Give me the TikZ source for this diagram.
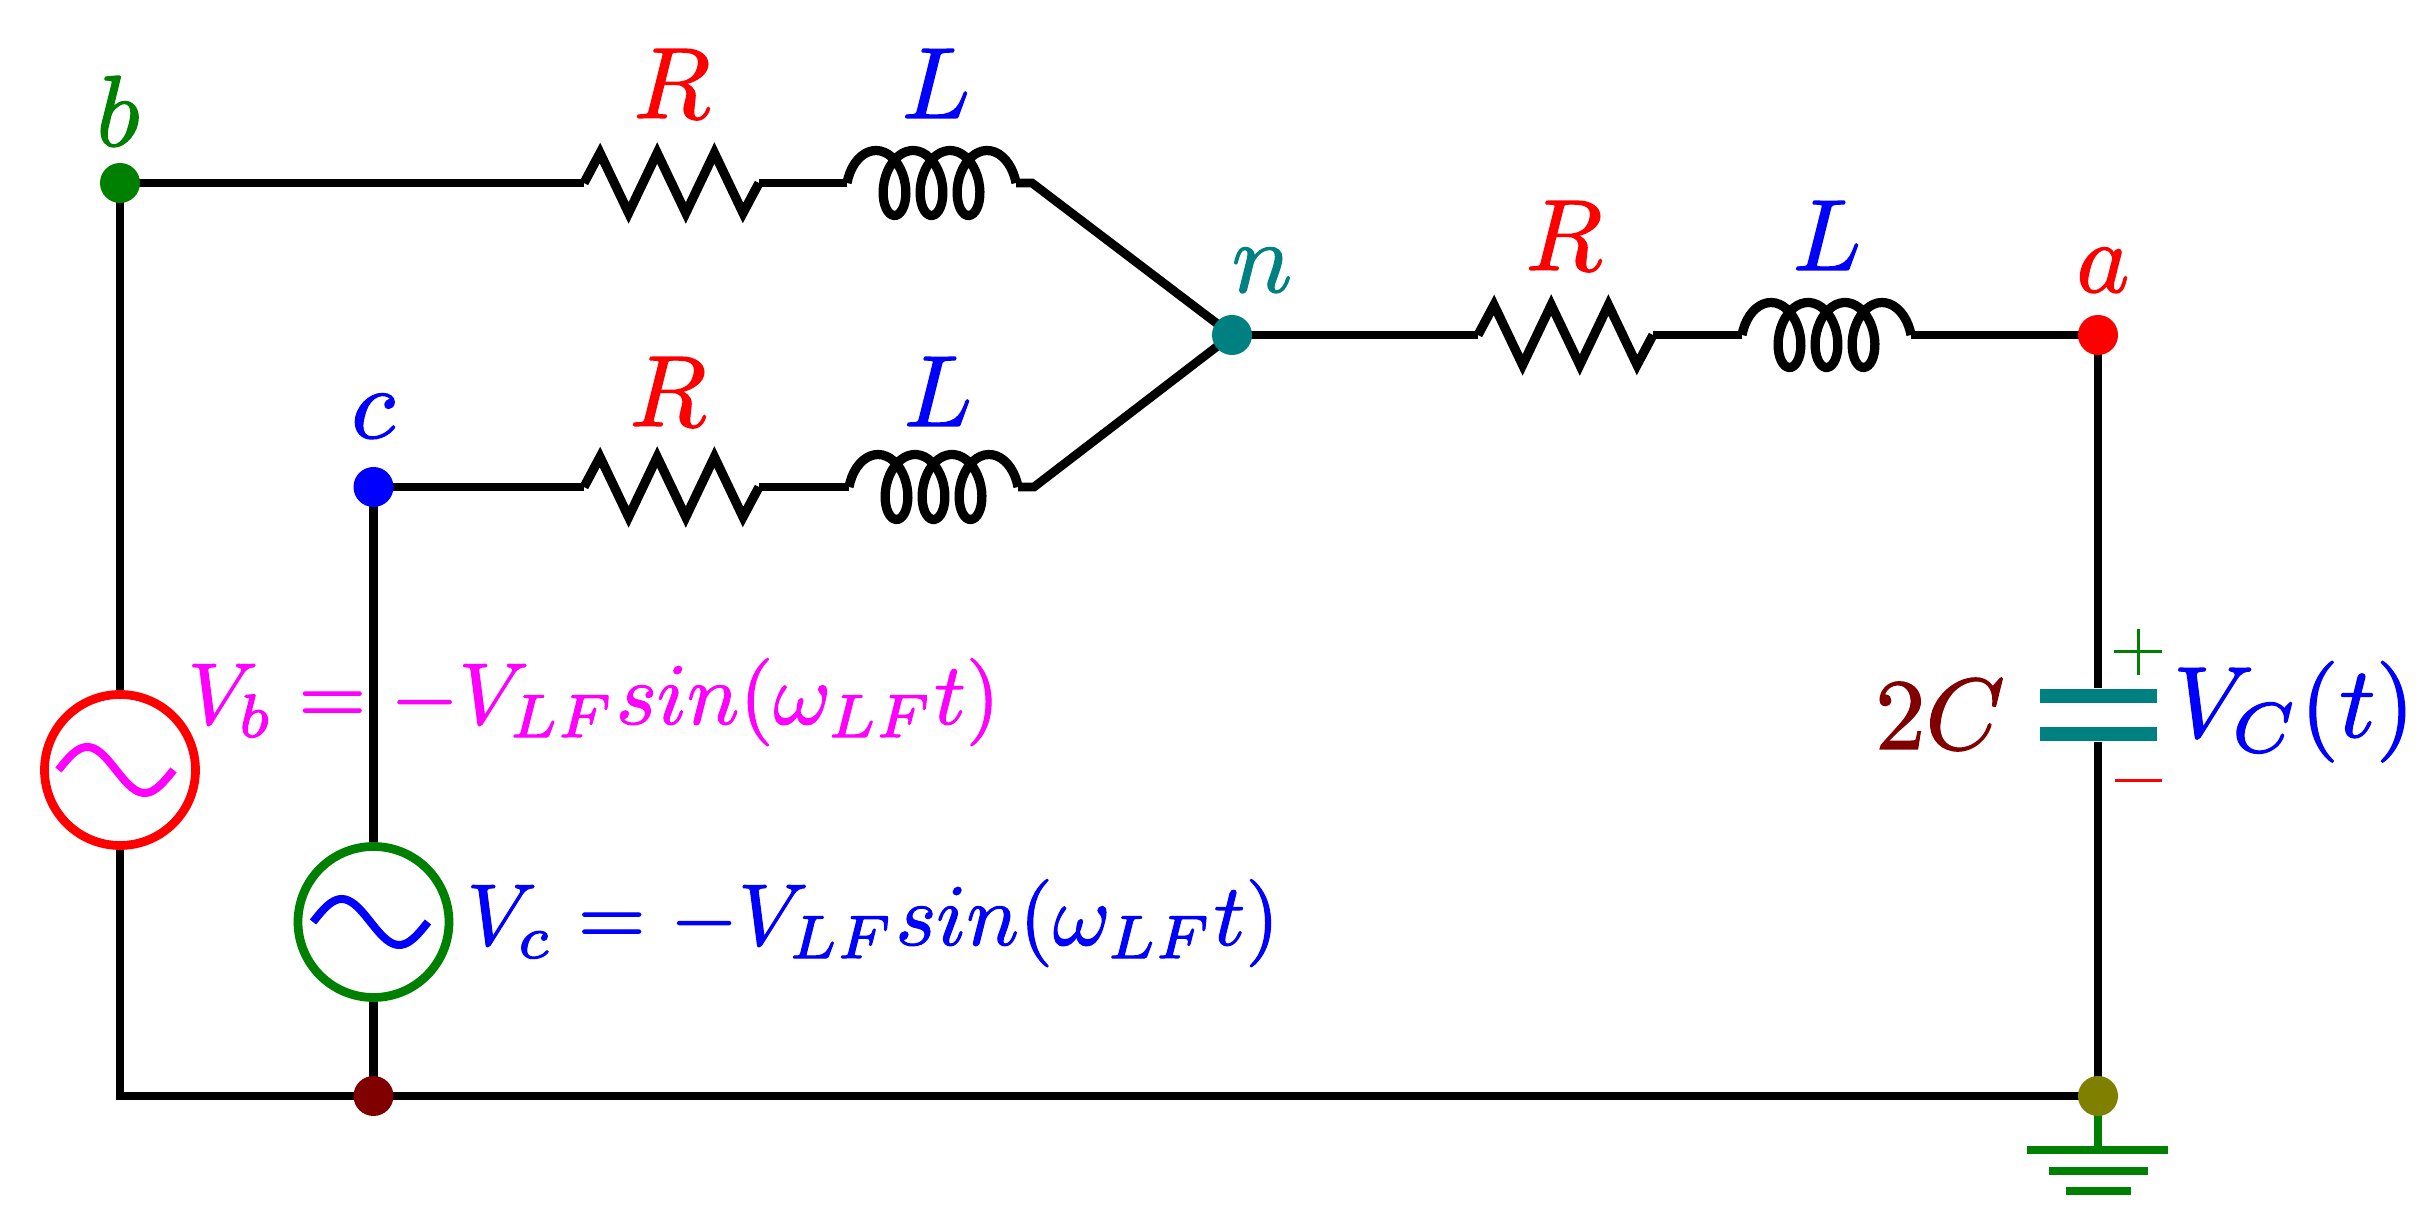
\documentclass[tikz,border=0pt]{standalone}
\usetikzlibrary{backgrounds}
\definecolor{cgreen}{rgb}{0,0.5,0}
\definecolor{cteal}{rgb}{0,0.5,0.5}
\definecolor{colive}{rgb}{0.5,0.5,0}
\definecolor{cmaroon}{rgb}{0.5,0,0}
\definecolor{cmagenta}{rgb}{1,0,1}
\newcommand{\resist}[2]{\draw[part,miter limit=10] (#1,#2) -- ++(16,-30) -- ++(28.6,60) -- ++(28.6,-60) -- ++(28.6,60) -- ++(28.6,-60) -- ++(28.6,60) -- ++(16,-30);}
\newcommand{\inductor}[2]{\draw[part] plot[domain=0:1260,samples=140] ({#1+0.1028*\x+19.75*(1-cos(\x))},{#2-32.5*sin(\x)});}
\newcommand{\wave}[3]{\draw[line width=1.6pt,#3] plot[domain=0:360,samples=40,smooth] ({#1-57.5+0.3194*\x},{#2-23*sin(\x)});}
\newcommand{\heavyon}{\special{pdf:literal 2 Tr 0.12 w}}
\newcommand{\heavyoff}{\special{pdf:literal 0 Tr}}
\tikzset{
  x=0.2pt,y=-0.2pt,
  wire/.style={line width=1.75pt,black},
  part/.style={line width=1.85pt,black},
  dot/.style={circle,inner sep=0pt,minimum size=8pt,fill=#1},
  src/.style={circle,draw=#1,line width=1.75pt,fill=none,inner sep=0pt,minimum size=30.2pt},
  lab/.style={inner sep=0pt,anchor=base,text=#1,scale=2.02,execute at begin node=\heavyon,execute at end node=\heavyoff},
  labm/.style={inner sep=0pt,anchor=base west,text=#1,scale=1.75,execute at begin node=\heavyon,execute at end node=\heavyoff},
  plate/.style={rectangle,fill=cteal,inner sep=0pt,minimum width=23.4pt,minimum height=2.8pt},
  gnd/.style={cgreen,line width=1.7pt},
}
\begin{document}
\begin{tikzpicture}
\useasboundingbox (0,0) rectangle (2430,1222);
\coordinate (r1in) at (584,183);
\coordinate (r1out) at (759,183);
\coordinate (l1in) at (847,183);
\coordinate (l1out) at (1016,183);
\coordinate (r2in) at (584,487);
\coordinate (r2out) at (759,487);
\coordinate (l2in) at (849,487);
\coordinate (l2out) at (1018,487);
\coordinate (r3in) at (1478,335);
\coordinate (r3out) at (1653,335);
\coordinate (l3in) at (1742,335);
\coordinate (l3out) at (1911,335);
\coordinate (k1) at (1032,183);
\coordinate (k2) at (1034,487);
\coordinate (corner) at (120,1096);
\coordinate (gtop) at (2098,1150);
\coordinate (g1l) at (2027,1150);
\coordinate (g1r) at (2168,1150);
\coordinate (g2l) at (2049,1171);
\coordinate (g2r) at (2148,1171);
\coordinate (g3l) at (2066,1191);
\coordinate (g3r) at (2131,1191);
\coordinate (pa) at (2114,652);
\coordinate (pb) at (2162,652);
\coordinate (pc) at (2138,629);
\coordinate (pd) at (2138,675);
\coordinate (ma) at (2115,781);
\coordinate (mb) at (2162,781);

\node[src=red] (sb) at (120,770) {};
\node[src=cgreen] (sc) at (373.5,922) {};
\node[plate] (cp) at (2098,696) {};
\node[plate] (cm) at (2098,734) {};

\node[dot=cgreen] (b) at (120,183) {};
\node[dot=blue] (c) at (373.5,487) {};
\node[dot=cteal] (n) at (1232,335) {};
\node[dot=red] (a) at (2098,335) {};
\node[dot=cmaroon] (d) at (373.5,1096) {};
\node[dot=colive] (e) at (2098,1096) {};

\begin{pgfonlayer}{background}
\draw[wire] (sb) -- (b.center) -- (r1in);
\draw[wire] (r1out) -- (l1in);
\draw[wire] (l1out) -- (k1) -- (n.center);
\draw[wire] (c.center) -- (r2in);
\draw[wire] (r2out) -- (l2in);
\draw[wire] (l2out) -- (k2) -- (n.center);
\draw[wire] (n.center) -- (r3in);
\draw[wire] (r3out) -- (l3in);
\draw[wire] (l3out) -- (a.center);
\draw[wire] (a.center) -- (cp);
\draw[wire] (cm) -- (e.center);
\draw[wire] (c.center) -- (sc);
\draw[wire] (sc) -- (d.center);
\draw[wire] (sb) -- (corner) -- (d.center) -- (e.center);
\draw[gnd] (e.center) -- (gtop);
\end{pgfonlayer}
\resist{584}{183}
\resist{584}{487}
\resist{1478}{335}
\inductor{847}{183}
\inductor{849}{487}
\inductor{1742}{335}

\wave{116}{770}{cmagenta}
\wave{370.5}{922}{blue}

\draw[gnd] (g1l) -- (g1r);
\draw[gnd] (g2l) -- (g2r);
\draw[gnd] (g3l) -- (g3r);
\draw[cgreen,line width=0.6pt] (pa) -- (pb);
\draw[cgreen,line width=0.6pt] (pc) -- (pd);
\draw[red,line width=0.6pt] (ma) -- (mb);

\node[lab=cgreen] (tb) at (118,146) {$b$};
\node[lab=blue] (tc) at (373,438) {$c$};
\node[lab=cteal] (tn) at (1262,292) {$n$};
\node[lab=red] (ta) at (2103,292) {$a$};
\node[lab=red] (tr1) at (672,118) {$R$};
\node[lab=blue] (tl1) at (936,118) {$L$};
\node[lab=red] (tr2) at (668,426) {$R$};
\node[lab=blue] (tl2) at (938,426) {$L$};
\node[lab=red] (tr3) at (1564,270) {$R$};
\node[lab=blue] (tl3) at (1827,270) {$L$};
\node[lab=cmaroon] (tc2) at (1940,749) {$2C$};
\node[lab=blue,anchor=base west] (tv) at (2171,737) {$V_C(t)$};
\node[labm=cmagenta] (tvb) at (186,724) {$V_b = -V_{LF}sin(\omega_{LF}t)$};
\node[labm=blue] (tvc) at (465,945) {$V_c = -V_{LF}sin(\omega_{LF}t)$};
\end{tikzpicture}
\end{document}
